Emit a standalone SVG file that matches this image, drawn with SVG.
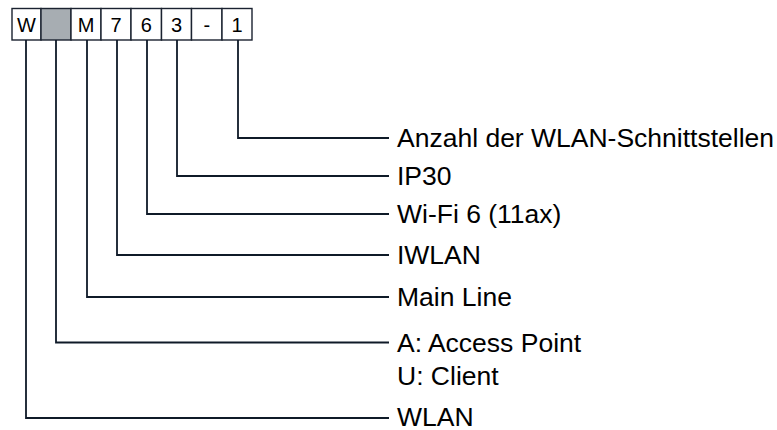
<svg xmlns="http://www.w3.org/2000/svg" width="777" height="430" viewBox="0 0 777 430">
<style>
.box{fill:#fff;stroke:#1a2230;stroke-width:1.4}
.gray{fill:#a7adb2}
.bt{font-family:"Liberation Sans",Arial,sans-serif;font-size:20px;fill:#000;text-anchor:middle}
.lbl{font-family:"Liberation Sans",Arial,sans-serif;font-size:26.5px;fill:#000}
.ln{fill:none;stroke:#0f1a28;stroke-width:1.8}
</style>
<rect width="777" height="430" fill="#fff"/>
<g id="code">
<rect class="box" x="12" y="8.5" width="29" height="31.5"/>
<rect class="box gray" x="41" y="8.5" width="30" height="31.5"/>
<rect class="box" x="71" y="8.5" width="30" height="31.5"/>
<rect class="box" x="101" y="8.5" width="30" height="31.5"/>
<rect class="box" x="131" y="8.5" width="30.5" height="31.5"/>
<rect class="box" x="161.5" y="8.5" width="30" height="31.5"/>
<rect class="box" x="191.5" y="8.5" width="30.5" height="31.5"/>
<rect class="box" x="222" y="8.5" width="30" height="31.5"/>
<text class="bt" x="26.5" y="32">W</text>
<text class="bt" x="86" y="32">M</text>
<text class="bt" x="116" y="32">7</text>
<text class="bt" x="146.3" y="32">6</text>
<text class="bt" x="176.5" y="32">3</text>
<text class="bt" x="206.8" y="32">-</text>
<text class="bt" x="237" y="32">1</text>
</g>
<g id="connectors">
<polyline class="ln" points="238,40 238,138 389,138"/>
<polyline class="ln" points="177,40 177,176 389,176"/>
<polyline class="ln" points="147,40 147,214 389,214"/>
<polyline class="ln" points="117,40 117,255 389,255"/>
<polyline class="ln" points="87,40 87,297 389,297"/>
<polyline class="ln" points="56,40 56,342.5 389,342.5"/>
<polyline class="ln" points="26,40 26,418 389,418"/>
</g>
<g id="labels">
<text class="lbl" x="397" y="147">Anzahl der WLAN-Schnittstellen</text>
<text class="lbl" x="397" y="185">IP30</text>
<text class="lbl" x="397" y="223">Wi-Fi 6 (11ax)</text>
<text class="lbl" x="397" y="264">IWLAN</text>
<text class="lbl" x="397" y="306">Main Line</text>
<text class="lbl" x="397" y="351.5">A: Access Point</text>
<text class="lbl" x="397" y="385">U: Client</text>
<text class="lbl" x="397" y="425.5">WLAN</text>
</g>
</svg>
